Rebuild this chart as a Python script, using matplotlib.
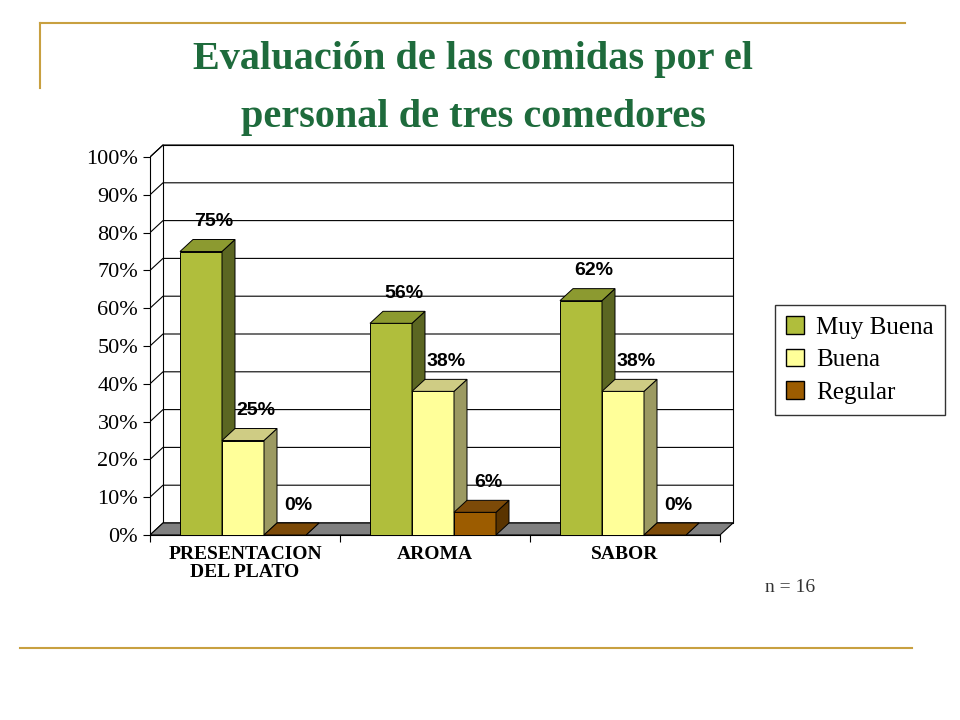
import matplotlib.pyplot as plt
from matplotlib.patches import Polygon
from matplotlib.lines import Line2D

categories = ["PRESENTACION\nDEL PLATO", "AROMA", "SABOR"]
series = ["Muy Buena", "Buena", "Regular"]
muy_buena = [75, 56, 62]
buena = [25, 38, 38]
regular = [0, 6, 0]
labels = [["75%", "25%", "0%"], ["56%", "38%", "6%"], ["62%", "38%", "0%"]]
yticks = list(range(0, 101, 10))

colors = {  # front, side, top
    "Muy Buena": ("#b0be3c", "#5b6622", "#8c9a30"),
    "Buena": ("#ffff99", "#9c9a62", "#cfcc84"),
    "Regular": ("#9c5c00", "#5a3400", "#7c4a08"),
}
green = "#1e6b3c"
gold = "#c8a040"

fig = plt.figure(figsize=(9.6, 7.2), dpi=100)
W, H = 960, 720
def fx(px): return px / W
def fy(py): return 1 - py / H

fig.text(fx(473), fy(60), "Evaluación de las comidas por el", ha="center", va="center",
         fontsize=29, fontweight="bold", color=green, family="Liberation Serif")
fig.text(fx(473), fy(118), "personal de tres comedores", ha="center", va="center",
         fontsize=29, fontweight="bold", color=green, family="Liberation Serif")

# decorative lines
fig.add_artist(Line2D([fx(40), fx(905)], [fy(23), fy(23)], color=gold, lw=1.5))
fig.add_artist(Line2D([fx(40), fx(40)], [fy(23), fy(88)], color=gold, lw=1.5))
fig.add_artist(Line2D([fx(20), fx(912)], [fy(648), fy(648)], color=gold, lw=1.5))

# axes: front floor 150..720 px, back wall to 735, y 0% at 535, top at 143
ax = fig.add_axes([fx(150), fy(535), fx(735) - fx(150), fy(143) - fy(535)])
ppc = 190.0  # px per category
ppp = (535 - 157) / 100.0  # px per percent
dx = 13 / ppc
dy = 12 / ppp
ax.set_xlim(0, 585 / ppc)
ax.set_ylim(0, (535 - 143) / ppp)

# back wall + grid
ax.add_patch(Polygon([(dx, dy), (3 + dx, dy), (3 + dx, 100 + dy), (dx, 100 + dy)],
                     closed=True, fc="white", ec="black", lw=0.8, zorder=0))
for t in yticks:
    ax.plot([0, dx, 3 + dx], [t, t + dy, t + dy], color="black", lw=0.8, zorder=1)
ax.plot([0, dx], [100, 100 + dy], color="black", lw=0.8, zorder=1)
# floor
ax.add_patch(Polygon([(0, 0), (3, 0), (3 + dx, dy), (dx, dy)], closed=True,
                     fc="#808080", ec="black", lw=0.8, zorder=2))

bw = 42 / ppc
start = 30 / ppc
for i in range(len(categories)):
    vals = [muy_buena[i], buena[i], regular[i]]
    for j, s in enumerate(series):
        x0 = i + start + j * bw
        v = vals[j]
        f, sd, tp = colors[s]
        z = 3 + j
        ax.add_patch(Polygon([(x0, 0), (x0 + bw, 0), (x0 + bw, v), (x0, v)],
                             fc=f, ec="black", lw=0.7, zorder=z))
        ax.add_patch(Polygon([(x0 + bw, 0), (x0 + bw + dx, dy), (x0 + bw + dx, v + dy), (x0 + bw, v)],
                             fc=sd, ec="black", lw=0.7, zorder=z))
        ax.add_patch(Polygon([(x0, v), (x0 + bw, v), (x0 + bw + dx, v + dy), (x0 + dx, v + dy)],
                             fc=tp, ec="black", lw=0.7, zorder=z))
        ax.text(x0 + bw / 2 + dx, v + dy + 2.5, labels[i][j], ha="center", va="bottom",
                fontsize=14, fontweight="bold", family="Liberation Sans", zorder=10)

for s in ["top", "right"]:
    ax.spines[s].set_visible(False)
ax.spines["left"].set_bounds(0, 100)
ax.spines["bottom"].set_bounds(0, 3)
ax.patch.set_visible(False)
ax.set_yticks(yticks)
ax.set_yticklabels([f"{t}%" for t in yticks], family="Liberation Serif", fontsize=16)
ax.set_xticks([0, 1, 2, 3])
ax.set_xticklabels([])
ax.tick_params(axis="both", length=5, direction="out")
for i, c in enumerate(categories):
    ax.text(i + 0.5, -2.8, c, ha="center", va="top", fontsize=14, fontweight="bold",
            family="Liberation Serif", linespacing=1.1)

handles = [Polygon([(0, 0)], fc=colors[s][0], ec="black") for s in series]
fig.legend(handles, series, loc="upper left", bbox_to_anchor=(fx(775), fy(305)),
           borderaxespad=0, prop={"family": "Liberation Serif", "size": 18},
           frameon=True, fancybox=False, edgecolor="black", handlelength=0.7,
           handleheight=0.7, borderpad=0.45, labelspacing=0.4, handletextpad=0.5)

fig.text(fx(790), fy(588), "n = 16", ha="center", va="center", fontsize=14,
         family="Liberation Serif", color="#333333")

fig.savefig("out.png", dpi=100)
